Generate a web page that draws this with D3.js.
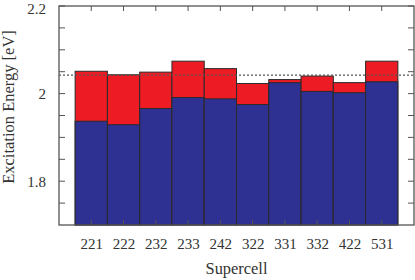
<!DOCTYPE html>
<html><head><meta charset="utf-8">
<script src="https://cdn.jsdelivr.net/npm/d3@7"></script>
<style>body{margin:0;background:#fff}svg{display:block}text{font-family:"Liberation Serif","Times New Roman",serif;fill:#333}</style>
</head><body>
<script>
const categories = ["221","222","232","233","242","322","331","332","422","531"];
const baseValues = [1.937,1.929,1.966,1.991,1.988,1.975,2.025,2.005,2.002,2.027];
const topValues  = [2.051,2.043,2.049,2.074,2.057,2.023,2.032,2.040,2.025,2.074];
const refLine = 2.042;
const yTickLabels = [1.8, 2.0, 2.2];

const W=415,H=280, L=59, R=414, T=6, B=225;
const svg=d3.select("body").append("svg").attr("width",W).attr("height",H);
const x=d3.scaleLinear().domain([-1,categories.length]).range([L,R]);
const y=d3.scaleLinear().domain([1.7,2.2]).range([B,T]);

const g=svg.append("g");
categories.forEach((c,i)=>{
  g.append("rect").attr("x",x(i-0.5)).attr("width",x(i+0.5)-x(i-0.5))
   .attr("y",y(topValues[i])).attr("height",y(1.7)-y(topValues[i]))
   .attr("fill","#ED1C24").attr("stroke","#2a2a2a").attr("stroke-width",1);
  g.append("rect").attr("x",x(i-0.5)).attr("width",x(i+0.5)-x(i-0.5))
   .attr("y",y(baseValues[i])).attr("height",y(1.7)-y(baseValues[i]))
   .attr("fill","#2E3192").attr("stroke","#2a2a2a").attr("stroke-width",1);
});
svg.append("line").attr("x1",L).attr("x2",R).attr("y1",y(refLine)).attr("y2",y(refLine))
  .attr("stroke","#555").attr("stroke-width",1.2).attr("stroke-dasharray","2,2");

const tickVals=d3.range(1.75,2.2,0.05);
const ax=svg.append("g").attr("stroke","#555").attr("stroke-width",1);
tickVals.forEach(v=>{
  ax.append("line").attr("x1",L).attr("x2",L+6).attr("y1",y(v)).attr("y2",y(v));
  ax.append("line").attr("x1",R).attr("x2",R-6).attr("y1",y(v)).attr("y2",y(v));
});
categories.forEach((c,i)=>{
  ax.append("line").attr("x1",x(i)).attr("x2",x(i)).attr("y1",B).attr("y2",B-5);
  ax.append("line").attr("x1",x(i)).attr("x2",x(i)).attr("y1",T).attr("y2",T+5);
});
svg.append("rect").attr("x",L).attr("y",T).attr("width",R-L).attr("height",B-T)
  .attr("fill","none").attr("stroke","#555").attr("stroke-width",1.3);

const yAxis=d3.axisLeft(y).tickValues(yTickLabels).tickSize(0).tickPadding(13).tickFormat(d=>d===2?"2":d3.format(".1f")(d));
const ya=svg.append("g").attr("transform",`translate(${L},0)`).call(yAxis);
ya.select(".domain").remove();
ya.selectAll("text").style("font-size","15px").attr("font-family",null)
  .attr("dy",d=>d===2.2?"0.5em":"0.32em");

const xAxis=d3.axisBottom(x).tickValues(d3.range(categories.length)).tickSize(0).tickPadding(13).tickFormat(i=>categories[i]);
const xa=svg.append("g").attr("transform",`translate(0,${B})`).call(xAxis);
xa.select(".domain").remove();
xa.selectAll("text").style("font-size","15px").attr("font-family",null);

svg.append("text").attr("x",(L+R)/2).attr("y",274).attr("text-anchor","middle").style("font-size","16.4px").text("Supercell");
svg.append("text").attr("transform",`translate(14,107) rotate(-90)`).attr("text-anchor","middle").style("font-size","16.5px").text("Excitation Energy [eV]");
</script>
</body></html>
